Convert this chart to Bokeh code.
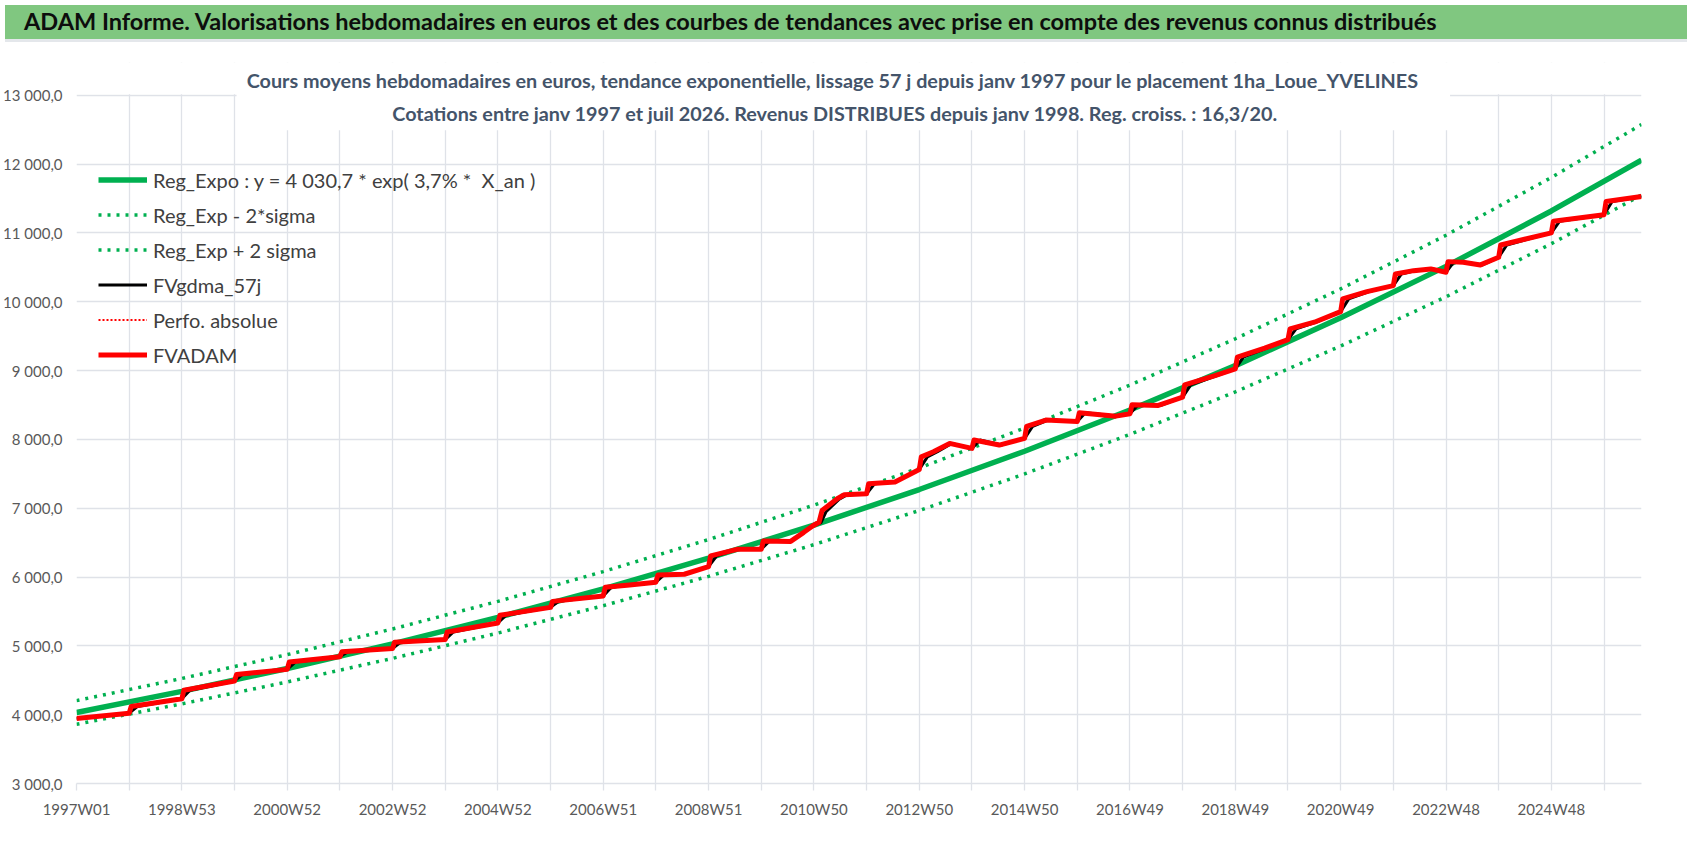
from bokeh.plotting import figure
from bokeh.models import Range1d, FixedTicker, Legend, LegendItem, Label, BoxAnnotation, Div
from bokeh.layouts import column
from bokeh.embed import file_html
from bokeh.resources import INLINE

FONT = "Lato"

# ---------------- data ----------------
# x = week index since 1997W01 (category axis, one category per week)
x_tick_labels = ["1997W01", "1998W53", "2000W52", "2002W52", "2004W52", "2006W51",
                 "2008W51", "2010W50", "2012W50", "2014W50", "2016W49", "2018W49",
                 "2020W49", "2022W48", "2024W48"]
weeks_per_label = 104
weeks_per_grid = 52
last_week = 1545

y_ticks = [3000, 4000, 5000, 6000, 7000, 8000, 9000, 10000, 11000, 12000, 13000]
y_tick_labels = ["3 000,0", "4 000,0", "5 000,0", "6 000,0", "7 000,0", "8 000,0",
                 "9 000,0", "10 000,0", "11 000,0", "12 000,0", "13 000,0"]

trend_weeks = [0, 104, 208, 312, 416, 520, 624, 728, 832, 936, 1040, 1144, 1248, 1352, 1456, 1545]
reg_expo = [4031, 4339, 4671, 5029, 5413, 5828, 6274, 6754, 7271, 7827, 8426, 9071, 9766, 10513, 11318, 12056]
reg_plus = [4204, 4526, 4872, 5245, 5646, 6079, 6544, 7044, 7584, 8164, 8788, 9461, 10186, 10965, 11805, 12574]
reg_minus = [3861, 4157, 4475, 4818, 5186, 5583, 6010, 6470, 6966, 7498, 8072, 8690, 9356, 10071, 10843, 11550]

fvadam_weeks = [0, 52, 54, 104, 106, 156, 158, 208, 210, 260, 262, 312, 314, 364, 366,
                416, 418, 468, 470, 520, 522, 546, 572, 574, 600, 624, 626, 653, 676, 678,
                705, 718, 727, 733, 736, 751, 758, 780, 782, 808, 832, 834, 846, 862,
                884, 886, 911, 936, 938, 957, 988, 990, 1026, 1040, 1042, 1068, 1092, 1094,
                1124, 1144, 1146, 1173, 1196, 1198, 1222, 1248, 1250, 1274, 1300, 1302,
                1320, 1337, 1352, 1354, 1369, 1386, 1404, 1406, 1456, 1458, 1508, 1510, 1545]
fvadam = [3945, 4022, 4118, 4230, 4355, 4490, 4585, 4658, 4764, 4841, 4913, 4961, 5053, 5091, 5202,
          5332, 5444, 5559, 5646, 5725, 5850, 5885, 5925, 6030, 6040, 6151, 6307, 6405, 6405, 6522,
          6517, 6649, 6745, 6795, 6966, 7137, 7195, 7210, 7356, 7380, 7561, 7746, 7820, 7941,
          7868, 7990, 7917, 8015, 8190, 8280, 8260, 8386, 8337, 8371, 8502, 8492, 8613, 8792,
          8927, 9024, 9194, 9324, 9450, 9605, 9702, 9856, 10040, 10147, 10234, 10403,
          10451, 10476, 10427, 10582, 10573, 10534, 10645, 10824, 11000, 11168, 11264, 11455, 11527]

fvgdma_weeks = [0, 52, 60, 104, 112, 156, 164, 208, 216, 260, 268, 312, 320, 364, 372,
                416, 424, 468, 476, 520, 528, 546, 572, 580, 600, 624, 632, 653, 676, 684,
                705, 718, 727, 735, 740, 753, 760, 780, 788, 808, 832, 840, 850, 864,
                884, 892, 913, 936, 944, 959, 988, 996, 1028, 1040, 1048, 1070, 1092, 1100,
                1126, 1144, 1152, 1175, 1196, 1204, 1224, 1248, 1256, 1276, 1300, 1308,
                1322, 1339, 1352, 1360, 1371, 1388, 1404, 1412, 1456, 1464, 1508, 1516, 1545]
fvgdma = [3945, 4022, 4118, 4230, 4355, 4490, 4585, 4658, 4764, 4841, 4913, 4961, 5053, 5091, 5202,
          5332, 5444, 5559, 5646, 5725, 5850, 5885, 5925, 6030, 6040, 6151, 6307, 6405, 6405, 6522,
          6517, 6649, 6740, 6790, 6950, 7130, 7190, 7210, 7356, 7380, 7561, 7746, 7820, 7941,
          7868, 7990, 7917, 8015, 8190, 8280, 8260, 8386, 8337, 8371, 8502, 8492, 8613, 8792,
          8927, 9024, 9194, 9324, 9450, 9605, 9702, 9856, 10040, 10147, 10234, 10403,
          10451, 10476, 10427, 10582, 10573, 10534, 10645, 10824, 11000, 11168, 11264, 11455, 11527]

title_text = ("ADAM Informe. Valorisations hebdomadaires en euros et des courbes de tendances "
              "avec prise en compte des revenus connus distribués")
subtitle_1 = ("Cours moyens hebdomadaires en euros, tendance exponentielle, lissage 57 j depuis "
              "janv 1997  pour le placement 1ha_Loue_YVELINES")
subtitle_2 = ("Cotations entre janv 1997 et juil 2026. Revenus DISTRIBUES depuis janv 1998. "
              "Reg. croiss. : 16,3/20.")
legend_labels = ["Reg_Expo : y = 4 030,7 * exp( 3,7% *  X_an )", "Reg_Exp - 2*sigma",
                 "Reg_Exp + 2 sigma", "FVgdma_57j", "Perfo. absolue", "FVADAM"]

# ---------------- colours ----------------
GREEN = "#00b050"
RED = "#ff0000"
GRID = "#dfe2e8"
LABEL = "#595959"

# ---------------- banner ----------------
banner = Div(text=title_text, width=1682, height=37,
             styles={"background-color": "#80c780", "font-family": FONT,
                     "font-weight": "bold", "font-size": "23.5px", "color": "#0d0d0d",
                     "padding-left": "19px", "line-height": "32px",
                     "box-sizing": "border-box", "border-bottom": "3px solid #e4e7eb",
                     "white-space": "nowrap", "overflow": "hidden"})

# ---------------- figure ----------------
Y_TOP = 13475   # frame extends above the 13 000 line to hold the chart title
p = figure(width=1682, height=795, x_range=Range1d(0, last_week), y_range=Range1d(3000, Y_TOP),
           output_backend="svg", toolbar_location=None,
           min_border_left=67, min_border_right=41, min_border_top=15, min_border_bottom=59)
p.outline_line_color = None
p.background_fill_color = "white"
p.border_fill_color = "white"

grid_ticks = list(range(0, last_week + 1, weeks_per_grid))
label_map = {}
for t in grid_ticks:
    label_map[t] = ""
for i, lab in enumerate(x_tick_labels):
    label_map[i * weeks_per_label] = lab

p.xaxis.ticker = FixedTicker(ticks=grid_ticks)
p.xaxis.major_label_overrides = label_map
p.xaxis.axis_line_color = GRID
p.xaxis.axis_line_width = 1.3
p.xaxis.major_tick_line_color = GRID
p.xaxis.major_tick_line_width = 1.3
p.xaxis.major_tick_out = 7
p.xaxis.major_tick_in = 0
p.xaxis.minor_tick_line_color = None
p.xaxis.major_label_standoff = 9
p.xaxis.major_label_text_font = FONT
p.xaxis.major_label_text_font_size = "15px"
p.xaxis.major_label_text_color = LABEL

p.yaxis.ticker = FixedTicker(ticks=y_ticks)
p.yaxis.major_label_overrides = dict(zip(y_ticks, y_tick_labels))
p.yaxis.axis_line_color = None
p.yaxis.major_tick_line_color = None
p.yaxis.minor_tick_line_color = None
p.yaxis.major_tick_out = 0
p.yaxis.major_tick_in = 0
p.yaxis.major_label_standoff = 14
p.yaxis.major_label_text_font = FONT
p.yaxis.major_label_text_font_size = "15px"
p.yaxis.major_label_text_color = LABEL

p.xgrid.ticker = FixedTicker(ticks=grid_ticks)
p.ygrid.ticker = FixedTicker(ticks=y_ticks)
p.grid.grid_line_color = GRID
p.grid.grid_line_width = 1.3

# white areas above the 13 000 line and behind the chart title
p.add_layout(BoxAnnotation(bottom=13012, top=Y_TOP, fill_color="white", fill_alpha=1.0,
                           line_color=None, level="underlay"))
p.add_layout(BoxAnnotation(left=158, right=1356, bottom=12490, top=Y_TOP,
                           fill_color="white", fill_alpha=1.0, line_color=None, level="underlay"))

# ---------------- series ----------------
r_expo = p.line(trend_weeks, reg_expo, line_color=GREEN, line_width=5.5)
r_minus = p.line(trend_weeks, reg_minus, line_color=GREEN, line_width=3.5, line_dash="3 6")
r_plus = p.line(trend_weeks, reg_plus, line_color=GREEN, line_width=3.5, line_dash="3 6")
r_perf = p.line(fvadam_weeks, fvadam, line_color=RED, line_width=2, line_dash="2 2")
r_gdma = p.line(fvgdma_weeks, fvgdma, line_color="black", line_width=3)
r_adam = p.line(fvadam_weeks, fvadam, line_color=RED, line_width=5, line_join="round")

legend = Legend(items=[LegendItem(label=l, renderers=[r]) for l, r in
                       zip(legend_labels, [r_expo, r_minus, r_plus, r_gdma, r_perf, r_adam])],
                location=(22, 411), orientation="vertical")
legend.label_text_font = FONT
legend.label_text_font_size = "20px"
legend.label_text_color = "#404040"
legend.glyph_width = 49
legend.glyph_height = 35
legend.label_height = 35
legend.label_standoff = 6
legend.spacing = 0
legend.padding = 0
legend.margin = 0
legend.border_line_color = None
legend.background_fill_alpha = 0
p.add_layout(legend)

for txt, yv in [(subtitle_1, 13215), (subtitle_2, 12738)]:
    p.add_layout(Label(x=749, y=yv, text=txt, text_align="center", text_baseline="middle",
                       text_font=FONT, text_font_size="19.8px", text_font_style="bold",
                       text_color="#44546a"))

layout = column(banner, p, spacing=0)
open("out.html", "w").write(file_html(layout, INLINE))
